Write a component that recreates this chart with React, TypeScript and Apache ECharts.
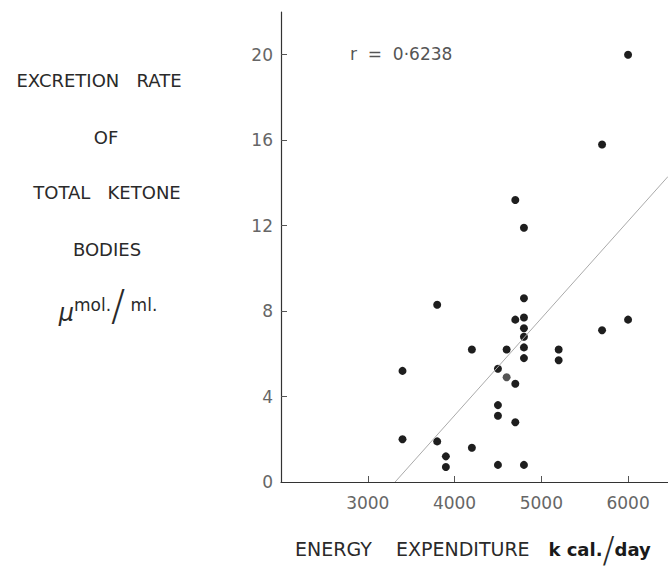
import React, { useEffect, useRef } from "react";
import * as echarts from "echarts";

const energy = [4700, 4800, 4800, 3800, 4700, 4800, 4800, 4800, 4800, 4800, 4200, 4600, 5200, 5200, 5700, 6000, 3400, 4500, 4600, 4700, 4500, 4500, 4700, 3400, 3800, 4200, 3900, 3900, 4500, 4800, 6000, 5700];
const ketone = [13.2, 11.9, 8.6, 8.3, 7.6, 7.7, 7.2, 6.8, 6.3, 5.8, 6.2, 6.2, 6.2, 5.7, 7.1, 7.6, 5.2, 5.3, 4.9, 4.6, 3.6, 3.1, 2.8, 2.0, 1.9, 1.6, 1.2, 0.7, 0.8, 0.8, 20.0, 15.8];
const fitX = [3315, 6460];
const fitY = [0, 14.3];
const xTicks = [3000, 4000, 5000, 6000];
const yTicks = [0, 4, 8, 12, 16, 20];
const yTickMarks = [4, 8, 12, 16, 20];
const yTitleLines = ["EXCRETION   RATE", "OF", "TOTAL   KETONE", "BODIES"];
const rText = "r  =  0·6238";

export default function App() {
  const ref = useRef<HTMLDivElement>(null);
  useEffect(() => {
    if (!ref.current) return;
    const chart = echarts.init(ref.current, null, { renderer: "svg" });
    const font = "DejaVu Sans, sans-serif";
    const titleYs = [80, 137, 192, 249];
    const titleXs = [99, 106, 107, 107];
    const graphics: any[] = yTitleLines.map((t, i) => ({
      type: "text",
      x: titleXs[i],
      y: titleYs[i],
      style: {
        text: t,
        fontFamily: font,
        fontSize: 18,
        fill: "#2a2a2a",
        align: "center",
        verticalAlign: "middle",
      },
    }));
    graphics.push({
      type: "text",
      x: 108,
      y: 305,
      style: {
        text: "{mu|µ}{a|mol.}{sl|/}{a| ml.}",
        align: "center",
        verticalAlign: "middle",
        rich: {
          mu: { fontFamily: font, fontSize: 24, fill: "#2a2a2a", fontStyle: "italic", verticalAlign: "bottom" },
          a: { fontFamily: font, fontSize: 17, fill: "#2a2a2a" },
          sl: { fontFamily: font, fontSize: 42, lineHeight: 40, fill: "#2a2a2a", fontWeight: 100 },
        },
      },
    });
    graphics.push({
      type: "text",
      x: 295,
      y: 549,
      style: {
        text: "{a|ENERGY    EXPENDITURE}{b|   k cal.}{sl|/}{b|day}",
        verticalAlign: "middle",
        rich: {
          a: { fontFamily: font, fontSize: 19, fill: "#2a2a2a" },
          b: { fontFamily: font, fontSize: 18, fill: "#1a1a1a", fontWeight: "bold" },
          sl: { fontFamily: font, fontSize: 36, lineHeight: 28, fill: "#2a2a2a", fontWeight: 100 },
        },
      },
    });
    graphics.push({
      type: "text",
      x: 350,
      y: 54,
      style: {
        text: rText,
        fontFamily: font,
        fontSize: 17,
        fill: "#555",
        verticalAlign: "middle",
      },
    });

    chart.setOption({
      animation: false,
      backgroundColor: "#fff",
      grid: { left: 281, right: 0, top: 12, bottom: 86, containLabel: false },
      xAxis: {
        type: "value",
        min: 2000,
        max: 6460,
        interval: 1000,
        axisLine: { lineStyle: { color: "#333", width: 1.2 } },
        axisTick: { inside: true, length: 6, customValues: xTicks, lineStyle: { color: "#555" } },
        axisLabel: {
          customValues: xTicks,
          margin: 12,
          fontFamily: font,
          fontSize: 17,
          color: "#666",
          formatter: (v: number) => String(v),
        },
        splitLine: { show: false },
      },
      yAxis: {
        type: "value",
        min: 0,
        max: 22,
        interval: 4,
        axisLine: { show: true, lineStyle: { color: "#333", width: 1.2 } },
        axisTick: { show: true, inside: true, length: 6, customValues: yTickMarks, lineStyle: { color: "#555" } },
        axisLabel: { customValues: yTicks, margin: 8, fontFamily: font, fontSize: 17, color: "#666" },
        splitLine: { show: false },
      },
      series: [
        {
          type: "line",
          data: fitX.map((x, i) => [x, fitY[i]]),
          symbol: "none",
          lineStyle: { color: "#aaa", width: 1 },
          silent: true,
        },
        {
          type: "scatter",
          symbolSize: 8,
          data: energy.map((x, i) =>
            i === 18
              ? { value: [x, ketone[i]], itemStyle: { color: "#555" } }
              : [x, ketone[i]]
          ),
          itemStyle: { color: "#1e1e1e", opacity: 1 },
        },
      ],
      graphic: graphics,
    });
    return () => chart.dispose();
  }, []);
  return (
    <div
      ref={ref}
      style={{ position: "absolute", left: 0, top: 0, width: 668, height: 568 }}
    />
  );
}
